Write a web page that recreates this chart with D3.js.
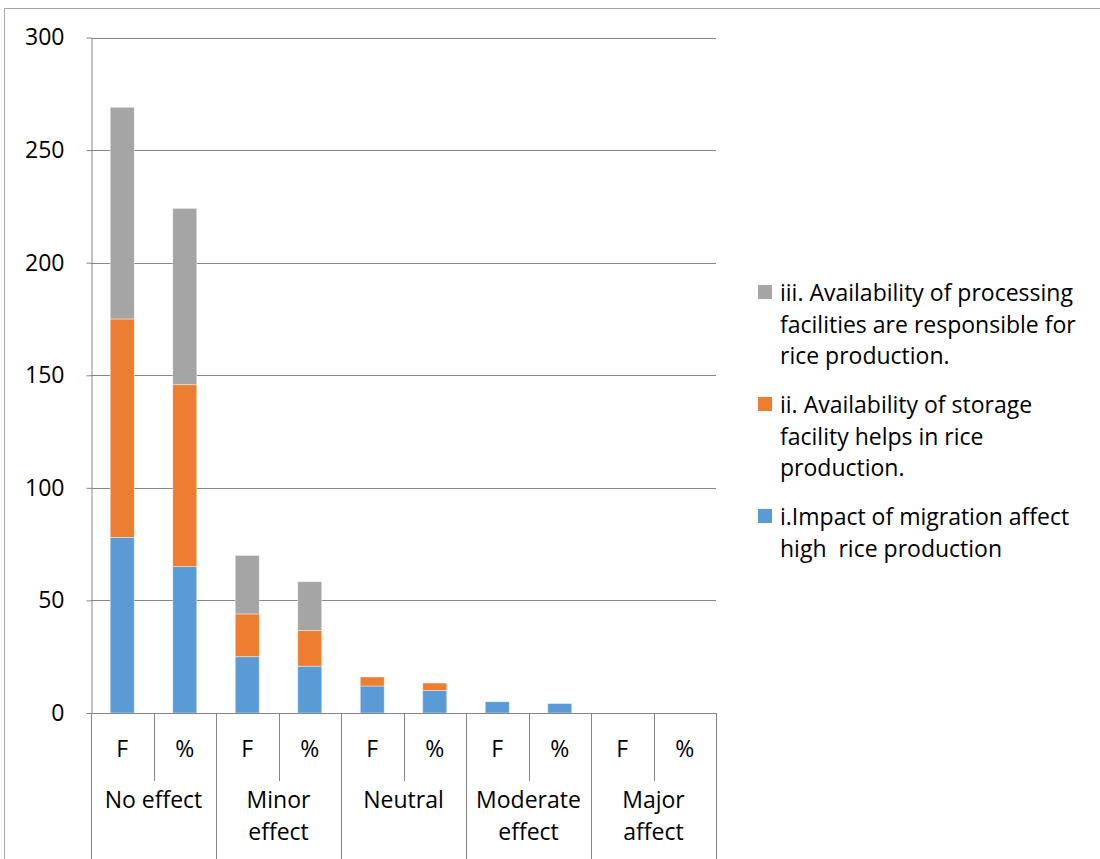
<!DOCTYPE html>
<html>
<head>
<meta charset="utf-8">
<script src="https://cdn.jsdelivr.net/npm/d3@7"></script>
<style>
  html, body { margin: 0; padding: 0; background: #fff; }
  svg { display: block; }
  text { font-family: "Open Sans", "Noto Sans", sans-serif; fill: #000; }
</style>
</head>
<body>
<svg id="chart" width="1100" height="859"></svg>
<script>
// Response groups and the two sub-columns shown under each
const groups = ["No effect", "Minor effect", "Neutral", "Moderate effect", "Major affect"];
const groupLines = [["No effect"], ["Minor", "effect"], ["Neutral"], ["Moderate", "effect"], ["Major", "affect"]];
const subs = ["F", "%"];

// Series names (stack order bottom to top) and colours
const seriesNames = [
  "i.Impact of migration affect high  rice production",
  "ii. Availability of storage facility helps in rice production.",
  "iii. Availability of processing facilities are responsible for rice production."
];
const seriesColors = ["#5B9BD5", "#ED7D31", "#A5A5A5"];

// Values per column: No effect F, %, Minor F, %, Neutral F, %, Moderate F, %, Major F, %
const impactMigration  = [78, 65.0, 25, 20.8, 12, 10.0, 5, 4.2, 0, 0];
const storageFacility  = [97, 80.8, 19, 15.8, 4, 3.3, 0, 0, 0, 0];
const processingFacil  = [94, 78.3, 26, 21.7, 0, 0, 0, 0, 0, 0];

const yTicks = [0, 50, 100, 150, 200, 250, 300];

// Legend entries, top to bottom, with wrapped lines
const legendEntries = [
  { color: seriesColors[2], lines: ["iii. Availability of processing", "facilities are responsible for", "rice production."] },
  { color: seriesColors[1], lines: ["ii. Availability of storage", "facility helps in rice", "production."] },
  { color: seriesColors[0], lines: ["i.Impact of migration affect", "high  rice production"] }
];

const svg = d3.select("#chart");
const plot = { left: 91, right: 716, top: 37.5, bottom: 713 };
const axisColor = "#868686";
const gridColor = "#868686";
const fontSize = "23px";

// Outer chart frame
svg.append("rect")
  .attr("x", 4.5).attr("y", 8.5)
  .attr("width", 1200).attr("height", 1000)
  .attr("fill", "none").attr("stroke", "#a6a6a6").attr("stroke-width", 1);

// Column keys
const columns = [];
groups.forEach((g, gi) => subs.forEach((s, si) => columns.push({ key: gi + "-" + si, group: g, sub: s })));

const x = d3.scaleBand()
  .domain(columns.map(c => c.key))
  .range([plot.left, plot.right])
  .paddingInner(0).paddingOuter(0);

const y = d3.scaleLinear().domain([0, 300]).range([plot.bottom, plot.top]);

// Horizontal gridlines
svg.append("g")
  .selectAll("line")
  .data(yTicks.filter(t => t > 0))
  .join("line")
  .attr("x1", plot.left).attr("x2", plot.right)
  .attr("y1", d => Math.round(y(d)) + 0.5).attr("y2", d => Math.round(y(d)) + 0.5)
  .attr("stroke", gridColor).attr("stroke-width", 1);

// Y axis
const yAxis = d3.axisLeft(y).tickValues(yTicks).tickSize(5).tickPadding(22).tickSizeOuter(0);
const yg = svg.append("g").attr("transform", `translate(${plot.left + 0.5},0)`).call(yAxis);
yg.select(".domain").attr("stroke", axisColor);
yg.selectAll(".tick line").attr("stroke", axisColor);
yg.selectAll(".tick text").style("font-size", fontSize).attr("fill", "#000")
  .style("font-family", '"Open Sans", sans-serif');

// Stacked bars
const rows = columns.map((c, i) => ({
  key: c.key,
  s0: impactMigration[i],
  s1: storageFacility[i],
  s2: processingFacil[i]
}));
const stack = d3.stack().keys(["s0", "s1", "s2"]);
const stacked = stack(rows);

const barW = 24;
svg.append("g")
  .selectAll("g")
  .data(stacked)
  .join("g")
  .attr("fill", (d, i) => seriesColors[i])
  .selectAll("rect")
  .data(d => d.filter(p => p[1] - p[0] > 0))
  .join("rect")
  .attr("x", d => x(d.data.key) + x.bandwidth() / 2 - barW / 2)
  .attr("y", d => y(d[1]))
  .attr("width", barW)
  .attr("height", d => y(d[0]) - y(d[1]))
  .attr("stroke", "#ffffff").attr("stroke-opacity", 0.5).attr("stroke-width", 0.8);

// Category axis line
svg.append("line")
  .attr("x1", plot.left).attr("x2", plot.right)
  .attr("y1", plot.bottom + 0.5).attr("y2", plot.bottom + 0.5)
  .attr("stroke", axisColor);

// Separators between sub-columns (short) and groups (long)
const subTickBottom = 781;
const groupTickBottom = 860;
const bw = x.bandwidth();
columns.forEach((c, i) => {
  const xl = x(c.key);
  const isGroupEdge = i % 2 === 0;
  svg.append("line")
    .attr("x1", Math.round(xl) + 0.5).attr("x2", Math.round(xl) + 0.5)
    .attr("y1", plot.bottom).attr("y2", isGroupEdge ? groupTickBottom : subTickBottom)
    .attr("stroke", axisColor);
});
svg.append("line")
  .attr("x1", plot.right + 0.5).attr("x2", plot.right + 0.5)
  .attr("y1", plot.bottom).attr("y2", groupTickBottom)
  .attr("stroke", axisColor);

// Sub-column labels
svg.append("g").selectAll("text")
  .data(columns)
  .join("text")
  .attr("x", d => x(d.key) + bw / 2)
  .attr("y", 748)
  .attr("text-anchor", "middle")
  .attr("dominant-baseline", "central")
  .style("font-size", fontSize)
  .text(d => d.sub);

// Group labels
groups.forEach((g, gi) => {
  const cx = x(gi + "-0") + bw;
  groupLines[gi].forEach((ln, li) => {
    svg.append("text")
      .attr("x", cx)
      .attr("y", 799 + li * 32)
      .attr("text-anchor", "middle")
      .attr("dominant-baseline", "central")
      .style("font-size", fontSize)
      .text(ln);
  });
});

// Legend
const legendStarts = [292, 404, 516];
const lineH = 31.5;
legendEntries.forEach((e, i) => {
  const y0 = legendStarts[i];
  svg.append("rect")
    .attr("x", 758).attr("y", y0 - 7)
    .attr("width", 14).attr("height", 14)
    .attr("fill", e.color);
  e.lines.forEach((ln, li) => {
    svg.append("text")
      .attr("x", 780)
      .attr("y", y0 + li * lineH)
      .attr("dominant-baseline", "central")
      .style("font-size", fontSize)
      .style("white-space", "pre")
      .attr("xml:space", "preserve")
      .text(ln);
  });
});
</script>
</body>
</html>
